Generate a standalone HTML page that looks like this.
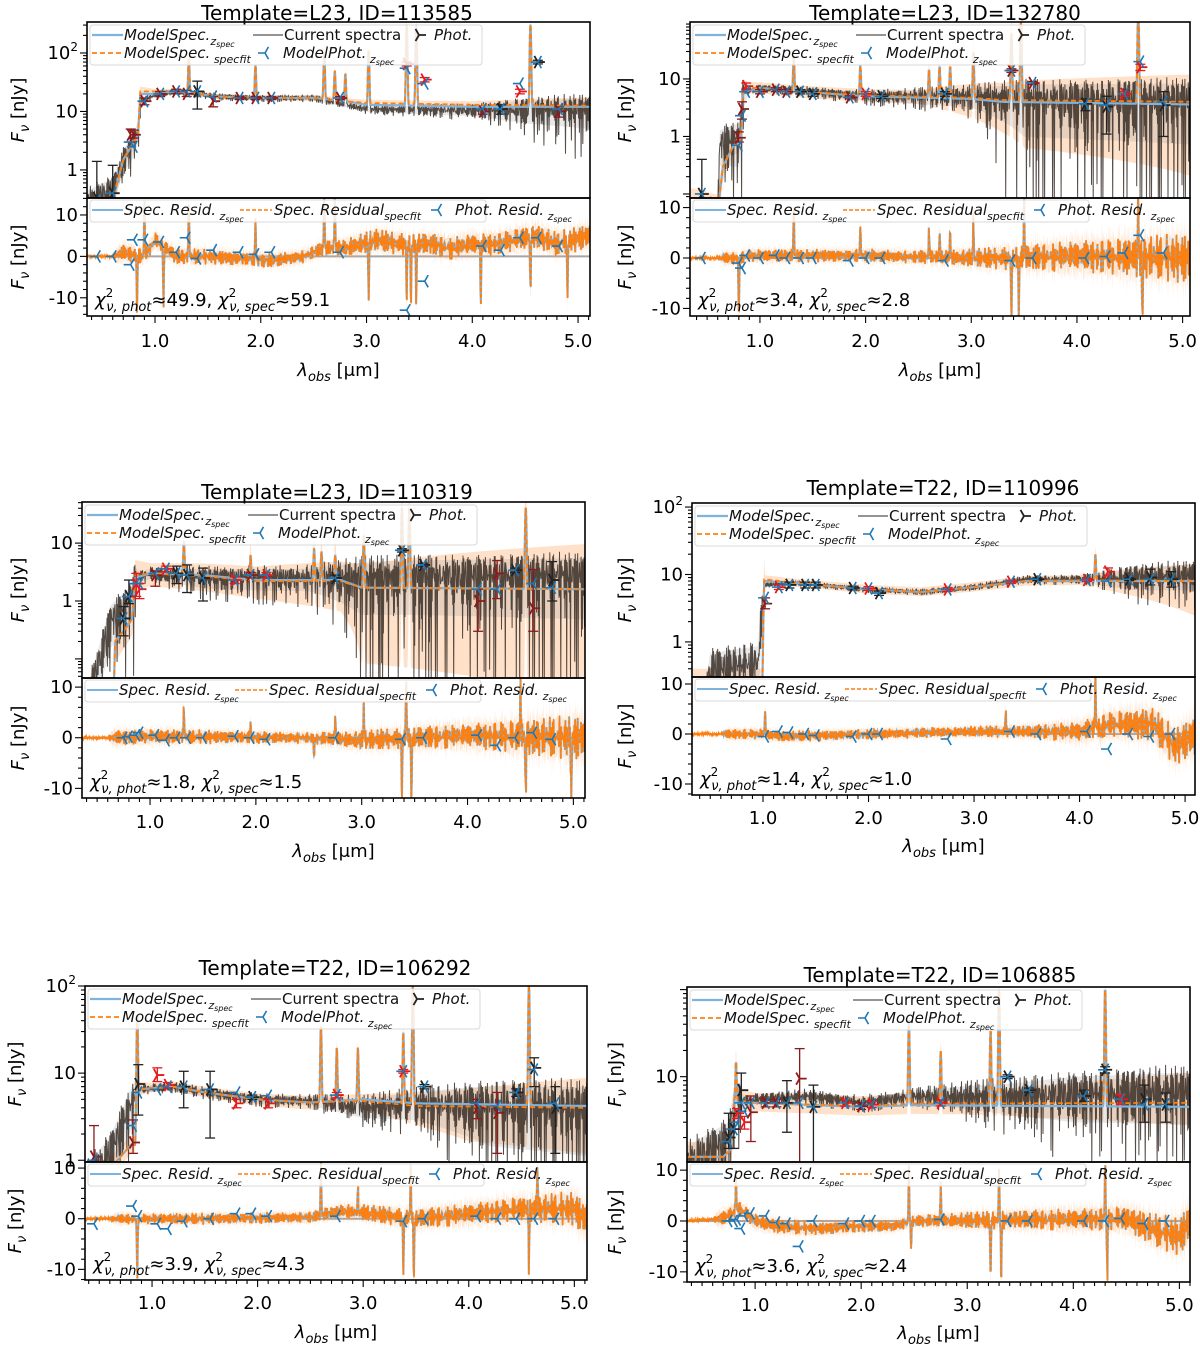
<!DOCTYPE html>
<html><head><meta charset="utf-8">
<style>
html,body{margin:0;padding:0;background:#fff;width:1200px;height:1347px;overflow:hidden;}
svg{display:block;font-family:"DejaVu Sans","Liberation Sans",sans-serif;overflow:hidden;}
</style></head>
<body>
<svg id="fig" width="1200" height="1347" viewBox="0 0 1200 1347" xmlns="http://www.w3.org/2000/svg">
<defs></defs>
</svg>
<script>
// ================= DATA =================
// Panel 1: L23 113585
const p1Cont=[[0.36,0.25],[0.6,0.3],[0.7,1.5],[0.8,3],[0.84,4],[0.86,20],[1.0,20],[1.2,22],[1.4,20],[1.6,18],[2.0,17],[2.5,17],[2.8,15],[3.0,13],[4.0,12],[5.1,12]];
const p1ContB=[[0.36,0.25],[0.6,0.3],[0.7,1.5],[0.8,3],[0.84,4],[0.86,22],[1.0,22],[1.2,22],[1.4,20],[1.6,18],[2.0,17],[2.5,17],[2.8,15],[3.0,14],[4.0,13],[5.1,12.5]];
const p1Obs=[[0.36,0.3],[0.6,0.5],[0.7,1.5],[0.8,3],[0.84,5],[0.86,15],[1.0,19],[1.2,22],[1.4,20],[1.6,18],[2.0,17],[2.5,17],[2.8,13],[3.0,11],[4.0,10.5],[5.1,11]];
const p1Amp=[[0.36,0.8],[0.85,0.7],[0.9,0.15],[2.8,0.15],[4.0,0.35],[4.5,0.7],[5.1,0.9]];
const p1Lines=[[1.32,60],[1.95,45],[2.6,90],[2.7,35],[2.8,30],[3.02,100],[3.38,300],[3.47,300],[4.55,300]];
const p1Band=[[0.36,0.5,1.6],[1.0,0.9,1.1],[4.0,0.9,1.15],[5.1,0.75,1.4]];
const p1Phot=[[0.45,0.33,0.3,1.4,'k',0.3,0],[0.6,0.4,0.3,1.2,'k',0.4,0],[0.77,4,3,5,'d',3,-2],[0.8,4,3.5,4.8,'d',2.5,4],[0.9,15,13,17,'d',15,4],[1.05,20,18,22,'d',20,3.5],[1.2,22,20,24,'d',22,1],[1.3,20,18,23,'d',22,4.5],[1.4,22,11,33,'k',22,-0.5],[1.55,15,12,18,'d',18,1.5],[1.8,17,16,18,'d',17,1],[1.95,17,16,18,'d',17,0.5],[2.1,17,16,18,'d',17,1],[2.75,17,16,18,'d',17,1],[3.38,65,60,70,'r',55,-13],[3.55,35,32,38,'r',30,-6],[4.1,10,9,11,'d',11,2.5],[4.27,11,9,13,'k',11,1.5],[4.45,22,20,24,'r',30,4.5],[4.62,70,65,75,'k',70,4.5],[4.82,10,8,12,'d',11,2.5]];
const p1Res=[[0.36,0],[0.6,0],[0.7,1],[0.9,0],[1.0,4],[1.1,2],[1.2,0],[1.5,0],[2.1,-1],[2.4,0],[2.6,2],[2.8,2],[3.1,4],[3.3,3],[3.6,3],[3.8,2],[4.0,3],[4.2,3],[4.6,5],[4.8,3],[5.1,5]];
const p1ResAmp=[[0.36,0],[0.6,0],[0.65,2],[2.5,1.5],[3.0,2.5],[5.1,3]];
const p1Spikes=[[0.83,-14],[0.9,14],[1.08,-14],[1.32,14],[1.95,10],[2.6,14],[2.7,14],[3.02,-14],[3.38,-14],[3.42,-14],[3.47,-14],[4.08,-14],[4.55,-14],[4.9,-14]];
const p1Chi=["49.9","59.1"];

// Panel 2: L23 132780
const p2Cont=[[0.36,0.05],[0.6,0.05],[0.65,0.3],[0.75,0.7],[0.82,0.8],[0.84,6],[1.0,7],[1.4,6],[2.0,5],[3.0,4.5],[3.3,4],[5.1,3.6]];
const p2ContB=[[0.36,0.05],[0.6,0.05],[0.65,0.3],[0.75,0.7],[0.82,0.8],[0.84,7],[1.0,7],[1.4,6],[2.0,5.2],[3.0,4.7],[3.3,4.3],[5.1,4.0]];
const p2Obs=[[0.36,0.05],[0.6,0.05],[0.62,0.8],[0.8,1],[0.84,6],[1.0,7],[1.5,6],[2.0,5],[3.0,5],[3.5,4.5],[5.1,4.5]];
const p2Amp=[[0.36,0.8],[0.82,1.2],[0.9,0.15],[2.0,0.3],[3.0,0.6],[3.5,1.3],[5.1,1.4]];
const p2Lines=[[1.32,18],[1.95,12],[2.6,10],[2.7,12],[2.8,12],[3.02,25],[3.38,60],[3.47,100],[4.58,150]];
const p2Band=[[0.36,0.3,2.5],[0.9,0.8,1.25],[2.5,0.75,1.3],[3.5,0.15,2.2],[5.1,0.05,3.0]];
const p2Phot=[[0.45,0.1,0.08,0.4,'k',0.1,0],[0.8,0.95,0.8,1.2,'d',0.7,-1],[0.83,3,2,4,'d',2.3,-2],[0.87,7.5,6.5,8.5,'r',6,0.5],[1.0,6,5.5,6.5,'d',6,0],[1.15,6.5,6,7,'d',6.5,0.5],[1.25,6,5.5,6.5,'d',6,0],[1.38,6,5.5,6.5,'k',6,0],[1.5,5.5,5,6,'k',5.5,0],[1.85,4.8,4.5,5.1,'d',4.8,-0.5],[2.0,5.5,5,6,'r',5.5,0],[2.15,5,4.6,5.4,'k',5,0],[2.75,5.5,5,6,'k',5.5,-0.5],[3.38,14,13,15,'d',14,-0.5],[3.58,8.5,8,9,'d',8.5,0],[4.08,3.7,2.8,4.5,'k',3.7,0],[4.28,3.3,1.1,5,'k',3.5,0.3],[4.45,5.5,5,6,'r',5.5,1],[4.6,16,14,18,'r',20,4.5],[4.82,3.5,1,6,'k',4,1]];
const p2Res=[[0.36,0],[0.8,0],[0.9,0.5],[1.5,0.5],[2.0,0.5],[3.0,0],[3.4,0],[4.0,0.5],[5.1,0]];
const p2ResAmp=[[0.36,0],[0.6,0],[0.65,1.2],[2.5,1.2],[3.0,1.7],[3.5,2.5],[4.5,4],[5.1,5]];
const p2Spikes=[[0.8,-12],[1.32,10],[1.95,6],[2.6,6],[2.7,5],[2.8,5],[3.02,8],[3.38,-12],[3.45,-12],[3.5,12],[4.58,12],[4.62,-12]];
const p2Chi=["3.4","2.8"];

// Panel 3: L23 110319
const p3Cont=[[0.36,0.01],[0.65,0.01],[0.67,0.2],[0.8,0.4],[0.83,0.5],[0.86,2.5],[1.0,3],[1.5,2.8],[2.0,2.3],[2.8,2.3],[3.0,1.7],[5.1,1.6]];
const p3ContB=[[0.36,0.01],[0.65,0.01],[0.67,0.2],[0.8,0.4],[0.83,0.5],[0.86,2.8],[1.0,3],[1.5,2.7],[2.0,2.2],[2.8,2.2],[3.0,1.7],[5.1,1.6]];
const p3Obs=[[0.36,0.01],[0.63,0.5],[0.8,1],[0.86,2.5],[1.0,3],[1.5,2.6],[2.0,2.5],[3.0,2.6],[3.5,2.8],[5.1,3]];
const p3Amp=[[0.36,1.2],[0.85,1.1],[0.9,0.3],[1.5,0.6],[2.5,0.7],[3.0,1.3],[5.1,1.4]];
const p3Lines=[[1.32,8],[1.95,4],[2.55,6],[2.62,5],[2.75,4],[3.02,12],[3.38,40],[3.45,40],[4.55,40]];
const p3Band=[[0.36,0.3,3],[1.0,0.6,1.5],[2.0,0.5,1.8],[2.8,0.3,2.2],[3.0,0.05,2.5],[5.1,0.01,6]];
const p3Phot=[[0.75,0.5,0.25,0.8,'k',0.5,0],[0.8,1.2,0.9,2.3,'k',1.2,0.2],[0.87,2,1.2,3,'r',2,0.5],[0.9,1.6,1.1,2,'r',2,1],[1.05,2.8,1.8,3.3,'d',3,0.5],[1.15,3.6,3.2,4,'r',3.6,-0.5],[1.25,3,2,4,'k',3,0],[1.35,2.8,1.4,4.2,'k',2.8,0],[1.5,2.5,1,3.7,'k',2.5,0],[1.8,2.3,2,2.6,'r',2.3,0.3],[1.95,2.8,2.5,3.1,'d',2.8,0],[2.1,2.8,2.5,3.1,'r',2.8,-0.3],[2.75,2.5,2.2,2.8,'k',2.5,0],[3.38,7.5,7,8,'k',7.5,-0.3],[3.58,4.2,3.9,4.5,'k',4.2,0],[4.1,1,0.3,1.6,'d',1.6,0.5],[4.28,3,1.1,5,'d',1.6,-1.5],[4.45,3.4,3.1,3.7,'k',3.4,0],[4.62,0.75,0.3,3.5,'d',2,1],[4.8,2.3,1,4.8,'k',1.7,-0.3]];
const p3Res=[[0.36,0],[0.6,0],[1.0,0.3],[2.5,0],[3.0,-0.5],[3.5,0],[4.0,0.5],[5.1,0]];
const p3ResAmp=[[0.36,0],[0.6,0],[0.65,1.5],[2.5,1],[3.0,1.8],[4.0,2.5],[4.5,3.5],[5.1,4.5]];
const p3Spikes=[[1.32,6],[1.95,3],[2.55,-4],[2.75,5],[3.02,8],[3.38,-12],[3.42,12],[3.47,-12],[4.5,10],[4.55,-12],[4.98,-12]];
const p3Chi=["1.8","1.5"];

// Panel 4: T22 110996
const p4Cont=[[0.33,0.1],[0.99,0.1],[1.01,8],[1.3,7.5],[2.0,6],[2.5,5.5],[3.0,6.5],[3.5,8],[4.0,8],[5.1,8]];
const p4ContB=[[0.33,0.1],[0.99,0.1],[1.01,8.5],[1.3,7.5],[2.0,6],[2.5,5.5],[3.0,6.5],[3.5,8],[4.0,8.2],[5.1,8]];
const p4Obs=[[0.33,0.01],[0.5,0.4],[0.95,0.5],[1.01,7],[1.3,7.5],[2.0,6],[2.5,5.5],[3.0,6.5],[3.5,8.5],[4.0,8.5],[5.1,10]];
const p4Amp=[[0.33,1.2],[0.97,1.2],[1.02,0.1],[3.0,0.12],[4.0,0.2],[4.5,0.6],[5.1,0.7]];
const p4Lines=[[4.15,12]];
const p4Band=[[0.33,1,4],[0.99,1,4],[1.02,0.88,1.15],[4.0,0.85,1.2],[5.1,0.3,1.8]];
const p4Phot=[[1.02,3.7,3.1,4.5,'d',4.5,-0.5],[1.15,6.5,6,7,'r',6.5,0.5],[1.25,7,6.3,7.7,'k',7,0.3],[1.4,7,6.3,7.7,'k',7,0],[1.5,7,6.3,7.7,'k',7,-0.3],[1.85,6.3,5.9,6.7,'k',6.3,-0.5],[2.0,6.2,5.8,6.6,'r',6.2,0],[2.1,5.3,4.9,5.7,'k',5.3,0],[2.75,6,5.6,6.4,'r',6,-1],[3.35,7.8,7.4,8.2,'r',7.8,0.5],[3.6,8.5,8.1,8.9,'k',8.5,0],[4.07,8.3,7.9,8.7,'r',8.3,0.5],[4.27,11,9.5,12.5,'r',8,-3],[4.47,8.5,8.1,8.9,'k',8.5,0],[4.67,9,7,12,'k',8.5,-0.5],[4.87,8.5,6.5,11,'k',8.5,0]];
const p4Res=[[0.33,0],[1.0,0],[1.2,-0.5],[2.0,0],[3.0,0.5],[4.0,0.5],[4.3,2],[4.7,2],[4.9,-2.5],[5.1,0]];
const p4ResAmp=[[0.33,0],[0.6,0],[0.65,1],[2.8,0.9],[3.5,1.2],[4.2,2.5],[5.1,4]];
const p4Spikes=[[1.02,5],[3.3,4],[4.15,11],[4.2,-2]];
const p4Chi=["1.4","1.0"];

// Panel 5: T22 106292
const p5Cont=[[0.36,0.5],[0.6,0.8],[0.8,1.5],[0.84,1.5],[0.86,6.5],[1.2,7],[1.5,6],[2.0,5],[2.5,4.6],[3.0,5],[3.5,4.5],[5.1,4.2]];
const p5ContB=[[0.36,0.5],[0.6,0.8],[0.8,1.5],[0.84,1.5],[0.86,6.5],[1.2,7],[1.5,6],[2.0,5],[2.5,4.6],[3.0,4.8],[3.5,4.2],[5.1,4.0]];
const p5Obs=[[0.36,0.5],[0.6,1.2],[0.86,6.5],[1.2,7],[1.5,6],[2.0,5],[2.5,4.8],[3.0,4],[3.5,4.5],[5.1,4]];
const p5Amp=[[0.36,1.0],[0.85,0.8],[0.9,0.15],[2.5,0.2],[3.0,0.4],[3.5,0.6],[4.2,1.1],[5.1,1.2]];
const p5Lines=[[0.86,40],[2.6,30],[2.75,15],[2.95,15],[3.38,25],[3.47,100],[4.57,100]];
const p5Band=[[0.36,0.6,1.5],[1.0,0.9,1.15],[3.0,0.8,1.2],[4.0,0.4,1.6],[5.1,0.3,2.2]];
const p5Phot=[[0.45,1.1,0.5,2.5,'d',1,-1],[0.82,1.6,1.2,2.9,'d',2.5,2.5],[0.87,7.5,3.3,12.5,'k',6,0.5],[1.05,9.5,8,11.5,'r',6.5,-1],[1.15,7.3,6.8,7.8,'r',7,-2],[1.3,7,4,10.5,'k',7,-0.5],[1.55,6.5,1.8,10.5,'k',6.5,0],[1.8,4.5,4,5,'r',6,1],[1.95,5.3,5,5.6,'k',5.3,1],[2.1,4.5,4,5,'r',5.5,0.5],[2.75,5.6,5.2,6,'r',5.6,0.5],[3.38,10.5,10,11,'r',10.5,-0.5],[3.58,7,6.6,7.4,'k',7,0],[4.08,4,3,5,'d',4.5,0.5],[4.27,3.5,1.2,6,'d',4.2,0],[4.45,6,5.4,6.6,'k',6,0],[4.62,11.5,7,15,'k',11,0],[4.82,4,1.2,7,'k',4.5,0]];
const p5Res=[[0.36,0],[0.8,0],[1.5,0],[2.5,0.3],[2.8,1.5],[3.0,1.2],[3.5,0],[4.5,2],[5.0,2],[5.1,0]];
const p5ResAmp=[[0.36,0],[0.6,0],[0.65,1],[2.5,1],[3.0,1.5],[4.5,2.5],[5.1,3.5]];
const p5Spikes=[[0.86,-12],[2.6,11],[2.95,5],[3.38,-12],[3.45,11],[3.48,-12],[4.57,-12],[4.65,9]];
const p5Chi=["3.9","4.3"];

// Panel 6: T22 106885
const p6Cont=[[0.36,1.2],[0.7,1.2],[0.78,1.5],[0.8,5],[1.0,5],[2.0,4.5],[2.5,4.7],[5.1,4.5]];
const p6ContB=[[0.36,1.2],[0.7,1.2],[0.78,1.5],[0.8,5.5],[1.0,5],[2.0,4.6],[2.5,4.9],[5.1,5.0]];
const p6Obs=[[0.36,1],[0.75,2],[0.8,5],[1.0,5.5],[1.5,6],[2.0,5],[2.5,6],[3.0,6],[3.5,6],[4.0,6.5],[5.1,7]];
const p6Amp=[[0.36,1.0],[0.85,0.8],[0.9,0.2],[2.5,0.25],[3.0,0.5],[4.0,0.9],[5.1,1.0]];
const p6Lines=[[0.82,10],[2.45,40],[2.75,15],[3.22,30],[3.3,100],[4.3,100]];
const p6Band=[[0.36,0.5,1.5],[1.0,0.8,1.3],[3.0,0.75,1.3],[5.1,0.55,2.2]];
const p6Phot=[[0.75,2,1.5,3.8,'k',1.8,0],[0.8,2.5,1.5,3.8,'k',2.5,0],[0.83,3.8,3.3,4.3,'r',3,0.3],[0.87,7,4,11,'k',5,-1.5],[0.9,3,2.5,3.5,'r',4,1],[0.96,3.9,1.8,6,'d',5,1.5],[1.1,5,4.5,5.5,'d',5,1],[1.2,5,4.5,5.5,'d',5,-0.3],[1.3,5,2.3,9,'k',5,-0.5],[1.42,9.5,1,21,'d',5,-5],[1.55,4.5,1,8,'k',4.5,0],[1.85,5,4.6,5.4,'r',5,-0.5],[2.0,4.6,4.2,5,'d',4.6,0],[2.1,4.8,4.4,5.2,'r',4.8,0],[2.75,5,4.6,5.4,'r',5,0.3],[3.38,10,9.5,10.5,'k',10,0],[3.58,7,6.6,7.4,'k',7,0],[4.1,6,5.2,7,'k',6,0],[4.3,12,11,13,'k',12,0],[4.45,5.5,4.8,6.2,'r',5.5,0.5],[4.67,5.5,3,8,'k',4.8,-0.5],[4.87,4.8,3,6.5,'k',4.8,0]];
const p6Res=[[0.36,0],[0.7,0.5],[0.85,2.5],[1.0,0],[1.2,-1],[1.6,-1.5],[2.0,-1],[2.3,-1],[2.5,0],[4.5,0.5],[4.8,-2],[5.0,-3],[5.1,0]];
const p6ResAmp=[[0.36,0],[0.6,0],[0.65,1.5],[2.5,1],[3.0,1.5],[4.5,2.5],[5.1,4]];
const p6Spikes=[[0.82,8],[2.45,11],[2.47,-5],[2.75,8],[3.22,-12],[3.3,11],[3.32,-12],[4.3,11],[4.32,-12]];
const p6Chi=["3.6","2.4"];

// texture arrays for spectral noise
const J1=[0.3,-0.8,0.5,-0.2,0.9,-0.6,0.1,-1,0.7,-0.4,0.2,-0.9,0.6,-0.1,0.8,-0.7,0.4,-0.3,1,-0.5,0,-0.95,0.55,-0.25,0.85,-0.65,0.15,-0.45,0.75,-0.85,0.35,-0.15,0.95,-0.55,0.05,-0.75,0.45];
const J2=[-0.5,0.7,-0.2,0.9,-0.9,0.3,0.1,-0.6,0.8,-0.3,0.5,-0.8,0.2,0.6,-1,0.4,-0.1,0.95,-0.7,0.25,-0.4,0.65,-0.85];

// ================= LAYOUT =================
const PANELS=[
 {title:"Template=L23, ID=113585",tx:337,ty:20,x0:87,x1:590,l0:0.357,l1:5.113,ya:22,yb:198,yc:316,g1:2.53,g0:-0.48,r1:14.1,r0:-14.4,tl:347,xl:376,yl:18,logLab:[0,1,2],
  cont:p1Cont,contB:p1ContB,obs:p1Obs,amp:p1Amp,lines:p1Lines,band:p1Band,phot:p1Phot,res:p1Res,resAmp:p1ResAmp,spikes:p1Spikes,chi:p1Chi},
 {title:"Template=L23, ID=132780",tx:945,ty:20,x0:690,x1:1190,l0:0.338,l1:5.07,ya:22,yb:198,yc:316,g1:1.99,g0:-1.07,r1:11.9,r0:-11.5,tl:347,xl:376,yl:625,logLab:[0,1],
  cont:p2Cont,contB:p2ContB,obs:p2Obs,amp:p2Amp,lines:p2Lines,band:p2Band,phot:p2Phot,res:p2Res,resAmp:p2ResAmp,spikes:p2Spikes,chi:p2Chi},
 {title:"Template=L23, ID=110319",tx:337,ty:499,x0:82,x1:585,l0:0.357,l1:5.11,ya:502,yb:678,yc:798,g1:1.71,g0:-1.33,r1:11.8,r0:-11.9,tl:828,xl:857,yl:18,logLab:[0,1],
  cont:p3Cont,contB:p3ContB,obs:p3Obs,amp:p3Amp,lines:p3Lines,band:p3Band,phot:p3Phot,res:p3Res,resAmp:p3ResAmp,spikes:p3Spikes,chi:p3Chi},
 {title:"Template=T22, ID=110996",tx:943,ty:495,x0:692,x1:1195,l0:0.327,l1:5.094,ya:503,yb:677,yc:795,g1:2.06,g0:-0.52,r1:11.4,r0:-12.2,tl:824,xl:852,yl:625,logLab:[0,1,2],
  cont:p4Cont,contB:p4ContB,obs:p4Obs,amp:p4Amp,lines:p4Lines,band:p4Band,phot:p4Phot,res:p4Res,resAmp:p4ResAmp,spikes:p4Spikes,chi:p4Chi},
 {title:"Template=T22, ID=106292",tx:335,ty:975,x0:85,x1:587,l0:0.365,l1:5.12,ya:986,yb:1162,yc:1280,g1:2.0,g0:-0.02,r1:11.2,r0:-12.1,tl:1309,xl:1338,yl:15,logLab:[0,1,2],
  cont:p5Cont,contB:p5ContB,obs:p5Obs,amp:p5Amp,lines:p5Lines,band:p5Band,phot:p5Phot,res:p5Res,resAmp:p5ResAmp,spikes:p5Spikes,chi:p5Chi},
 {title:"Template=T22, ID=106885",tx:940,ty:982,x0:687,x1:1190,l0:0.358,l1:5.10,ya:987,yb:1162,yc:1282,g1:2.03,g0:0.02,r1:11.6,r0:-12.0,tl:1311,xl:1339,yl:615,logLab:[1],
  cont:p6Cont,contB:p6ContB,obs:p6Obs,amp:p6Amp,lines:p6Lines,band:p6Band,phot:p6Phot,res:p6Res,resAmp:p6ResAmp,spikes:p6Spikes,chi:p6Chi}
];

const NS="http://www.w3.org/2000/svg";
const svg=document.getElementById('fig');
const defs=svg.querySelector('defs');
function mk(tag,attrs,parent){const e=document.createElementNS(NS,tag);for(const k in attrs)e.setAttribute(k,attrs[k]);parent.appendChild(e);return e;}
function interp(nodes,l,col){col=col||1;if(l<=nodes[0][0])return nodes[0][col];for(let i=1;i<nodes.length;i++){if(l<=nodes[i][0]){const a=nodes[i-1],b=nodes[i];const t=(l-a[0])/(b[0]-a[0]);return a[col]+(b[col]-a[col])*t;}}return nodes[nodes.length-1][col];}
function interpLog(nodes,l){if(l<=nodes[0][0])return nodes[0][1];for(let i=1;i<nodes.length;i++){if(l<=nodes[i][0]){const a=nodes[i-1],b=nodes[i];const t=(l-a[0])/(b[0]-a[0]);return Math.pow(10,Math.log10(a[1])+(Math.log10(b[1])-Math.log10(a[1]))*t);}}return nodes[nodes.length-1][1];}
function lineSum(lines,l,s){let v=0;for(const ln of lines){const d=(l-ln[0])/s;if(Math.abs(d)<5)v+=ln[1]*Math.exp(-0.5*d*d);}return v;}
function jit(i){let v=J1[i%37]*0.65+J2[i%23]*0.5;return Math.max(-1,Math.min(1,v));}
function clamp(v,a,b){return Math.max(a,Math.min(b,v));}

function tri(g,cx,cy,r,dir,color,w){
  const s=dir;
  const d=`M${cx},${cy}L${cx+s*r},${cy}M${cx},${cy}L${cx-s*r*0.5},${cy-r*0.87}M${cx},${cy}L${cx-s*r*0.5},${cy+r*0.87}`;
  return mk('path',{d:d,stroke:color,'stroke-width':w||1.6,fill:'none'},g);
}
function subText(g,x,y,main,sub1,sub2,italic,size){
  const t=mk('text',{x:x,y:y,'font-size':size||15,'font-style':italic?'italic':'normal',fill:'#111'},g);
  const a=mk('tspan',{},t);a.textContent=main;
  if(sub1){const b=mk('tspan',{dy:5,'font-size':11,'font-style':'italic'},t);b.textContent=sub1;}
  if(sub2){const c=mk('tspan',{dy:2,'font-size':8,'font-style':'italic'},t);c.textContent=sub2;}
  return t;
}

PANELS.forEach((P,pi)=>{
  const G=mk('g',{},svg);
  
  
  const X=l=>P.x0+(l-P.l0)/(P.l1-P.l0)*(P.x1-P.x0);
  const YL=v=>clamp(P.ya+(P.g1-Math.log10(Math.max(v,1e-4)))/(P.g1-P.g0)*(P.yb-P.ya),P.ya-5,P.yb+5);
  const YR=v=>clamp(P.yb+(P.r1-v)/(P.r1-P.r0)*(P.yc-P.yb),P.yb-5,P.yc+5);
  const c1=mk('clipPath',{id:'ct'+pi},defs);mk('rect',{x:P.x0,y:P.ya,width:P.x1-P.x0,height:P.yb-P.ya},c1);
  const c2=mk('clipPath',{id:'cb'+pi},defs);mk('rect',{x:P.x0,y:P.yb,width:P.x1-P.x0,height:P.yc-P.yb},c2);

  const tt=mk('text',{x:P.tx,y:P.ty,'font-size':20,'text-anchor':'middle',fill:'#000'},G);
  
  
  tt.textContent=P.title;

  const T=mk('g',{'clip-path':`url(#ct${pi})`},G);
  
  
  const grid=[];for(let l=P.l0;l<=P.l1+0.004;l+=0.004)grid.push(l);
  const SIG=0.005;
  const model=l=>interpLog(P.cont,l)+lineSum(P.lines,l,SIG);
  const modelB=l=>interpLog(P.contB,l)+lineSum(P.lines,l,SIG);
  let up=[],dn=[];
  grid.forEach(l=>{const m=modelB(l);up.push(`${X(l).toFixed(1)},${YL(m*interp(P.band,l,2)).toFixed(1)}`);dn.push(`${X(l).toFixed(1)},${YL(m*interp(P.band,l,1)).toFixed(1)}`);});
  const band=mk('polygon',{points:up.concat(dn.reverse()).join(' '),fill:'rgba(255,170,100,0.35)',stroke:'none'},T);
  
  
  let obsPts=[],gu=[],gd=[];
  grid.forEach((l,i)=>{const base=interpLog(P.obs,l);const a=interp(P.amp,l);const v=base*(1+a*jit(i))+0.6*lineSum(P.lines,l,SIG);
    obsPts.push(`${X(l).toFixed(1)},${YL(Math.max(v,1e-4)).toFixed(1)}`);
    gu.push(`${X(l).toFixed(1)},${YL(base*(1+a*0.6)).toFixed(1)}`);gd.push(`${X(l).toFixed(1)},${YL(Math.max(base*(1-a*0.6),1e-4)).toFixed(1)}`);});
  const gb=mk('polygon',{points:gu.concat(gd.reverse()).join(' '),fill:'rgba(150,150,150,0.22)',stroke:'none'},T);
  
  
  const ob=mk('polyline',{points:obsPts.join(' '),fill:'none',stroke:'rgba(55,45,38,0.85)','stroke-width':1},T);
  
  
  const mb=mk('polyline',{points:grid.map(l=>`${X(l).toFixed(1)},${YL(model(l)).toFixed(1)}`).join(' '),fill:'none',stroke:'#7db3dc','stroke-width':2.2},T);
  
  
  const mo=mk('polyline',{points:grid.map(l=>`${X(l).toFixed(1)},${YL(modelB(l)).toFixed(1)}`).join(' '),fill:'none',stroke:'#ff7f0e','stroke-width':1.8,'stroke-dasharray':'5,3'},T);
  
  
  const colors={k:'#222',r:'#e41a1c',d:'#8b1a1a'};
  P.phot.forEach(p=>{
    const pg=mk('g',{},T);
    
    
    const x=X(p[0]),c=colors[p[4]];
    mk('line',{x1:x,x2:x,y1:YL(p[2]),y2:YL(p[3]),stroke:c,'stroke-width':1.3},pg);
    mk('line',{x1:x-5,x2:x+5,y1:YL(p[2]),y2:YL(p[2]),stroke:c,'stroke-width':1.3},pg);
    mk('line',{x1:x-5,x2:x+5,y1:YL(p[3]),y2:YL(p[3]),stroke:c,'stroke-width':1.3},pg);
    tri(pg,x,YL(p[1]),7,1,c,1.8);
    tri(pg,x,YL(p[5]),7,-1,'#1f77b4',1.6);
  });

  const B=mk('g',{'clip-path':`url(#cb${pi})`},G);
  
  
  const zl=mk('line',{x1:P.x0,x2:P.x1,y1:YR(0),y2:YR(0),stroke:'rgba(128,128,128,0.7)','stroke-width':2},B);
  
  
  const resid=(l,i)=>interp(P.res,l)+interp(P.resAmp,l)*jit(i)+lineSum(P.spikes,l,0.004);
  let ru=[],rd=[];
  grid.forEach((l,i)=>{const r=resid(l,i),a=interp(P.resAmp,l)*0.9+0.2;ru.push(`${X(l).toFixed(1)},${YR(r+a).toFixed(1)}`);rd.push(`${X(l).toFixed(1)},${YR(r-a).toFixed(1)}`);});
  const rb=mk('polygon',{points:ru.concat(rd.reverse()).join(' '),fill:'rgba(255,170,100,0.3)',stroke:'none'},B);
  
  
  const rbl=mk('polyline',{points:grid.map((l,i)=>`${X(l).toFixed(1)},${YR(resid(l,i)).toFixed(1)}`).join(' '),fill:'none',stroke:'#7db3dc','stroke-width':2},B);
  
  
  const rol=mk('polyline',{points:grid.map((l,i)=>`${X(l).toFixed(1)},${YR(resid(l,i)+0.25*J2[(i+7)%23]).toFixed(1)}`).join(' '),fill:'none',stroke:'#ff7f0e','stroke-width':1.6,'stroke-dasharray':'4,2'},B);
  
  
  P.phot.forEach(p=>{
    const m=tri(B,X(p[0]),YR(p[6]),7,-1,'#1f77b4',1.6);
    
    
  });

  const F=mk('g',{},G);
  
  
  mk('rect',{x:P.x0,y:P.ya,width:P.x1-P.x0,height:P.yb-P.ya,fill:'none',stroke:'#000','stroke-width':1.6},F);
  mk('rect',{x:P.x0,y:P.yb,width:P.x1-P.x0,height:P.yc-P.yb,fill:'none',stroke:'#000','stroke-width':1.6},F);
  const XT=mk('g',{stroke:'#000','stroke-width':1.1},G);
  
  
  for(let k=Math.ceil(P.l0*10);k<=Math.floor(P.l1*10);k++){
    const x=X(k/10),maj=(k%10===0);
    mk('line',{x1:x,x2:x,y1:P.yc,y2:P.yc+(maj?7:4)},XT);
    if(maj){const t=mk('text',{x:x,y:P.tl,'font-size':18,'text-anchor':'middle',fill:'#000',stroke:'none'},G);
      
      
      t.textContent=(k/10).toFixed(1);}
  }
  const xlab=mk('text',{x:(P.x0+P.x1)/2,y:P.xl,'font-size':18,'text-anchor':'middle',fill:'#000'},G);
  
  
  {const a=mk('tspan',{'font-style':'italic'},xlab);a.textContent='λ';const b=mk('tspan',{dy:5,'font-size':13,'font-style':'italic'},xlab);b.textContent='obs';const c=mk('tspan',{dy:-5},xlab);c.textContent=' [μm]';}
  const YT=mk('g',{stroke:'#000','stroke-width':1.1},G);
  
  
  for(let e=Math.floor(P.g0);e<=Math.ceil(P.g1);e++){
    for(let m=1;m<10;m++){const lv=e+Math.log10(m);if(lv<P.g0||lv>P.g1)continue;const y=YL(Math.pow(10,lv));
      mk('line',{x1:P.x0,x2:P.x0-(m===1?7:4),y1:y,y2:y},YT);}
  }
  P.logLab.forEach(e=>{const y=YL(Math.pow(10,e));
    const t=mk('text',{x:P.x0-9,y:y+6,'font-size':18,'text-anchor':'end',fill:'#000'},G);
    
    
    if(e===0)t.textContent='1';else if(e===1)t.textContent='10';else{const a=mk('tspan',{},t);a.textContent='10';const b=mk('tspan',{dy:-8,'font-size':12},t);b.textContent='2';}
  });
  for(let v=-14;v<=14;v+=2){if(v>P.r1||v<P.r0)continue;const y=YR(v);mk('line',{x1:P.x0,x2:P.x0-(v%10===0?7:4),y1:y,y2:y},YT);}
  [10,0,-10].forEach(v=>{const t=mk('text',{x:P.x0-9,y:YR(v)+6,'font-size':18,'text-anchor':'end',fill:'#000'},G);
    
    
    t.textContent=String(v);});
  [[(P.ya+P.yb)/2,'y-axis-title-flux'],[(P.yb+P.yc)/2,'y-axis-title-residual']].forEach(([cy,nm])=>{
    const t=mk('text',{x:0,y:0,'font-size':18,'text-anchor':'middle',fill:'#000',transform:`translate(${P.yl+6},${cy}) rotate(-90)`},G);
    
    
    const a=mk('tspan',{'font-style':'italic'},t);a.textContent='F';const b=mk('tspan',{dy:5,'font-size':13,'font-style':'italic'},t);b.textContent='ν';const c=mk('tspan',{dy:-5},t);c.textContent=' [nJy]';
  });

  const L=mk('g',{},G);
  
  
  const lx=P.x0,ly=P.ya;
  mk('rect',{x:lx+3,y:ly+3,width:392,height:40,rx:3,fill:'rgba(255,255,255,0.82)',stroke:'#d8d8d8'},L);
  mk('line',{x1:lx+5,x2:lx+36,y1:ly+13,y2:ly+13,stroke:'#7db3dc','stroke-width':2.2},L);
  subText(L,lx+37,ly+18,'ModelSpec.','z','spec',true);
  mk('line',{x1:lx+166,x2:lx+196,y1:ly+13,y2:ly+13,stroke:'#555','stroke-width':1.2},L);
  subText(L,lx+197,ly+18,'Current spectra',null,null,false);
  tri(L,lx+332,ly+13,7,1,'#222',1.8);
  subText(L,lx+347,ly+18,'Phot.',null,null,true);
  mk('line',{x1:lx+5,x2:lx+36,y1:ly+31,y2:ly+31,stroke:'#ff7f0e','stroke-width':1.8,'stroke-dasharray':'5,3'},L);
  subText(L,lx+37,ly+36,'ModelSpec.',' specfit',null,true);
  tri(L,lx+178,ly+31,7,-1,'#1f77b4',1.6);
  subText(L,lx+196,ly+36,'ModelPhot.',' z','spec',true);

  const L2=mk('g',{},G);
  
  
  const ry=P.yb;
  mk('rect',{x:lx+3,y:ry+2,width:396,height:22,rx:3,fill:'rgba(255,255,255,0.82)',stroke:'#d8d8d8'},L2);
  mk('line',{x1:lx+5,x2:lx+36,y1:ry+12,y2:ry+12,stroke:'#7db3dc','stroke-width':2},L2);
  subText(L2,lx+37,ry+17,'Spec. Resid.',' z','spec',true);
  mk('line',{x1:lx+153,x2:lx+185,y1:ry+12,y2:ry+12,stroke:'#ff7f0e','stroke-width':1.5,'stroke-dasharray':'4,2'},L2);
  subText(L2,lx+187,ry+17,'Spec. Residual','specfit',null,true);
  tri(L2,lx+351,ry+12,7,-1,'#1f77b4',1.6);
  subText(L2,lx+368,ry+17,'Phot. Resid.',' z','spec',true);

  const ct=mk('text',{x:P.x0+8,y:P.yc-10,'font-size':18,fill:'#000'},G);
  
  
  const parts=[['χ',{'font-style':'italic'}],['2',{dy:-9,'font-size':12}],['ν, phot',{dx:-7,dy:14,'font-size':13,'font-style':'italic'}],['≈'+P.chi[0]+', ',{dy:-5}],['χ',{'font-style':'italic'}],['2',{dy:-9,'font-size':12}],['ν, spec',{dx:-7,dy:14,'font-size':13,'font-style':'italic'}],['≈'+P.chi[1],{dy:-5}]];
  parts.forEach(([s,a])=>{const t=mk('tspan',a,ct);t.textContent=s;});
});
</script>
</body></html>
